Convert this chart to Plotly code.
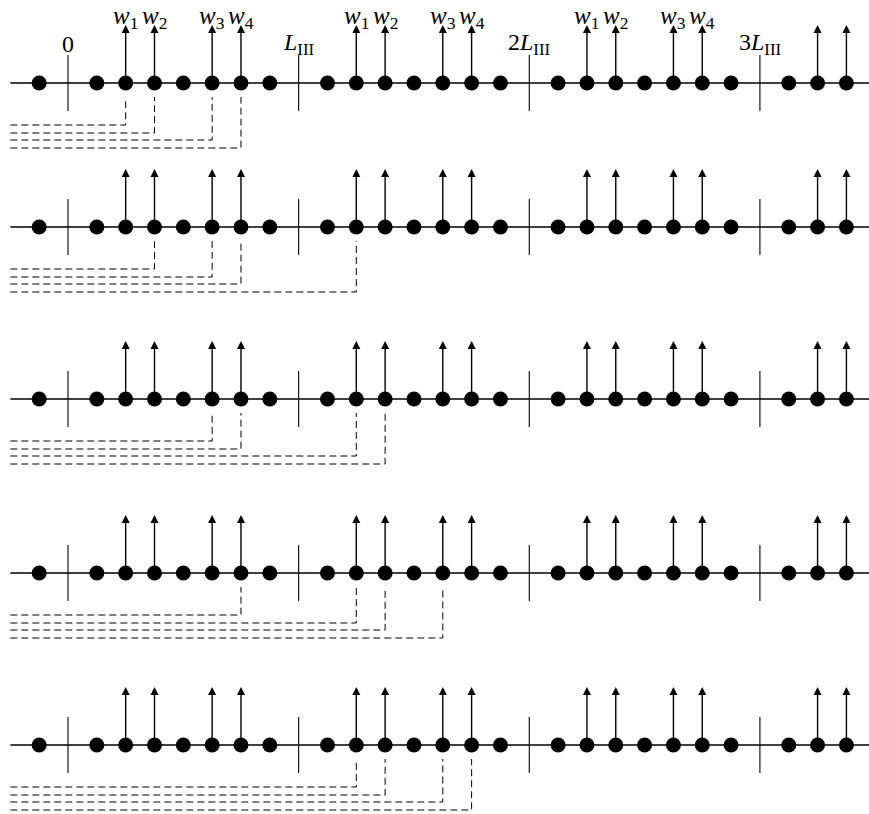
import plotly.graph_objects as go

# ---------------- data ----------------
dot_positions = [-1, 1, 2, 3, 4, 5, 6, 7, 9, 10, 11, 12, 13, 14, 15,
                 17, 18, 19, 20, 21, 22, 23, 25, 26, 27]
arrow_positions = [2, 3, 5, 6, 10, 11, 13, 14, 18, 19, 21, 22, 26, 27]
arrow_labels = ["1", "2", "3", "4", "1", "2", "3", "4", "1", "2", "3", "4", "", ""]
period_ticks = [0, 8, 16, 24]
period_labels = ["0", "<i>L</i><sub>III</sub>", "2<i>L</i><sub>III</sub>",
                 "3<i>L</i><sub>III</sub>"]
row_connections = [[2, 3, 5, 6],
                   [3, 5, 6, 10],
                   [5, 6, 10, 11],
                   [6, 10, 11, 13],
                   [10, 11, 13, 14]]
axis_start, axis_end = -2, 28

# ---------------- layout constants ----------------
W, H = 869, 814
UNIT_PX = 28.83
ORIGIN_PX = 68
ROW_Y = [83, 227, 399, 573, 745]
TICK_HALF = 28
ARROW_LEN = 58
DASH_TOP = 14
DASH_OFFSETS = [42, 50, 57, 65]
FONT = "Liberation Serif"

x_range = [-ORIGIN_PX / UNIT_PX, (W - ORIGIN_PX) / UNIT_PX]

fig = go.Figure()

for r, ry in enumerate(ROW_Y):
    # dashed connections
    dx, dy = [], []
    for j, k in enumerate(row_connections[r]):
        off = DASH_OFFSETS[j]
        dx += [axis_start, k, k, None]
        dy += [ry + off, ry + off, ry + DASH_TOP, None]
    fig.add_trace(go.Scatter(x=dx, y=dy, mode="lines",
                             line=dict(color="black", width=1, dash="7px,4px"),
                             hoverinfo="skip"))
    # axis line
    fig.add_trace(go.Scatter(x=[axis_start, axis_end], y=[ry, ry], mode="lines",
                             line=dict(color="black", width=1.4), hoverinfo="skip"))
    # period ticks
    tx, ty = [], []
    for t in period_ticks:
        tx += [t, t, None]
        ty += [ry - TICK_HALF, ry + TICK_HALF, None]
    fig.add_trace(go.Scatter(x=tx, y=ty, mode="lines",
                             line=dict(color="black", width=1.1), hoverinfo="skip"))
    # arrow stems
    sx, sy = [], []
    for k in arrow_positions:
        sx += [k, k, None]
        sy += [ry, ry - ARROW_LEN + 5, None]
    fig.add_trace(go.Scatter(x=sx, y=sy, mode="lines",
                             line=dict(color="black", width=1.4), hoverinfo="skip"))
    # arrow heads
    fig.add_trace(go.Scatter(x=arrow_positions, y=[ry - ARROW_LEN] * len(arrow_positions),
                             mode="markers",
                             marker=dict(symbol="arrow-up", size=8, color="black",
                                         line=dict(width=0)),
                             hoverinfo="skip"))
    # dots
    fig.add_trace(go.Scatter(x=dot_positions, y=[ry] * len(dot_positions), mode="markers",
                             marker=dict(symbol="circle", size=15, color="black",
                                         line=dict(width=0)),
                             hoverinfo="skip"))

# labels (first row only)
ry0 = ROW_Y[0]
for t, lab in zip(period_ticks, period_labels):
    fig.add_annotation(x=t, y=ry0 - 39, xref="x", yref="y", text=lab,
                       showarrow=False, xanchor="center", yanchor="middle",
                       font=dict(family=FONT, size=24, color="black"))
for k, lab in zip(arrow_positions, arrow_labels):
    if lab:
        fig.add_annotation(x=k, y=ry0 - 66, xref="x", yref="y",
                           text="<i>w</i><sub>" + lab + "</sub>",
                           showarrow=False, xanchor="center", yanchor="middle",
                           font=dict(family=FONT, size=25, color="black"))

fig.update_layout(
    width=W, height=H,
    margin=dict(l=0, r=0, t=0, b=0),
    paper_bgcolor="white", plot_bgcolor="white",
    showlegend=False,
    xaxis=dict(range=x_range, visible=False, fixedrange=True),
    yaxis=dict(range=[H, 0], visible=False, fixedrange=True),
)

fig.write_html("out.html",
               config={"displayModeBar": False, "staticPlot": True},
               post_script="document.body.style.margin='0';document.body.style.padding='0';")
